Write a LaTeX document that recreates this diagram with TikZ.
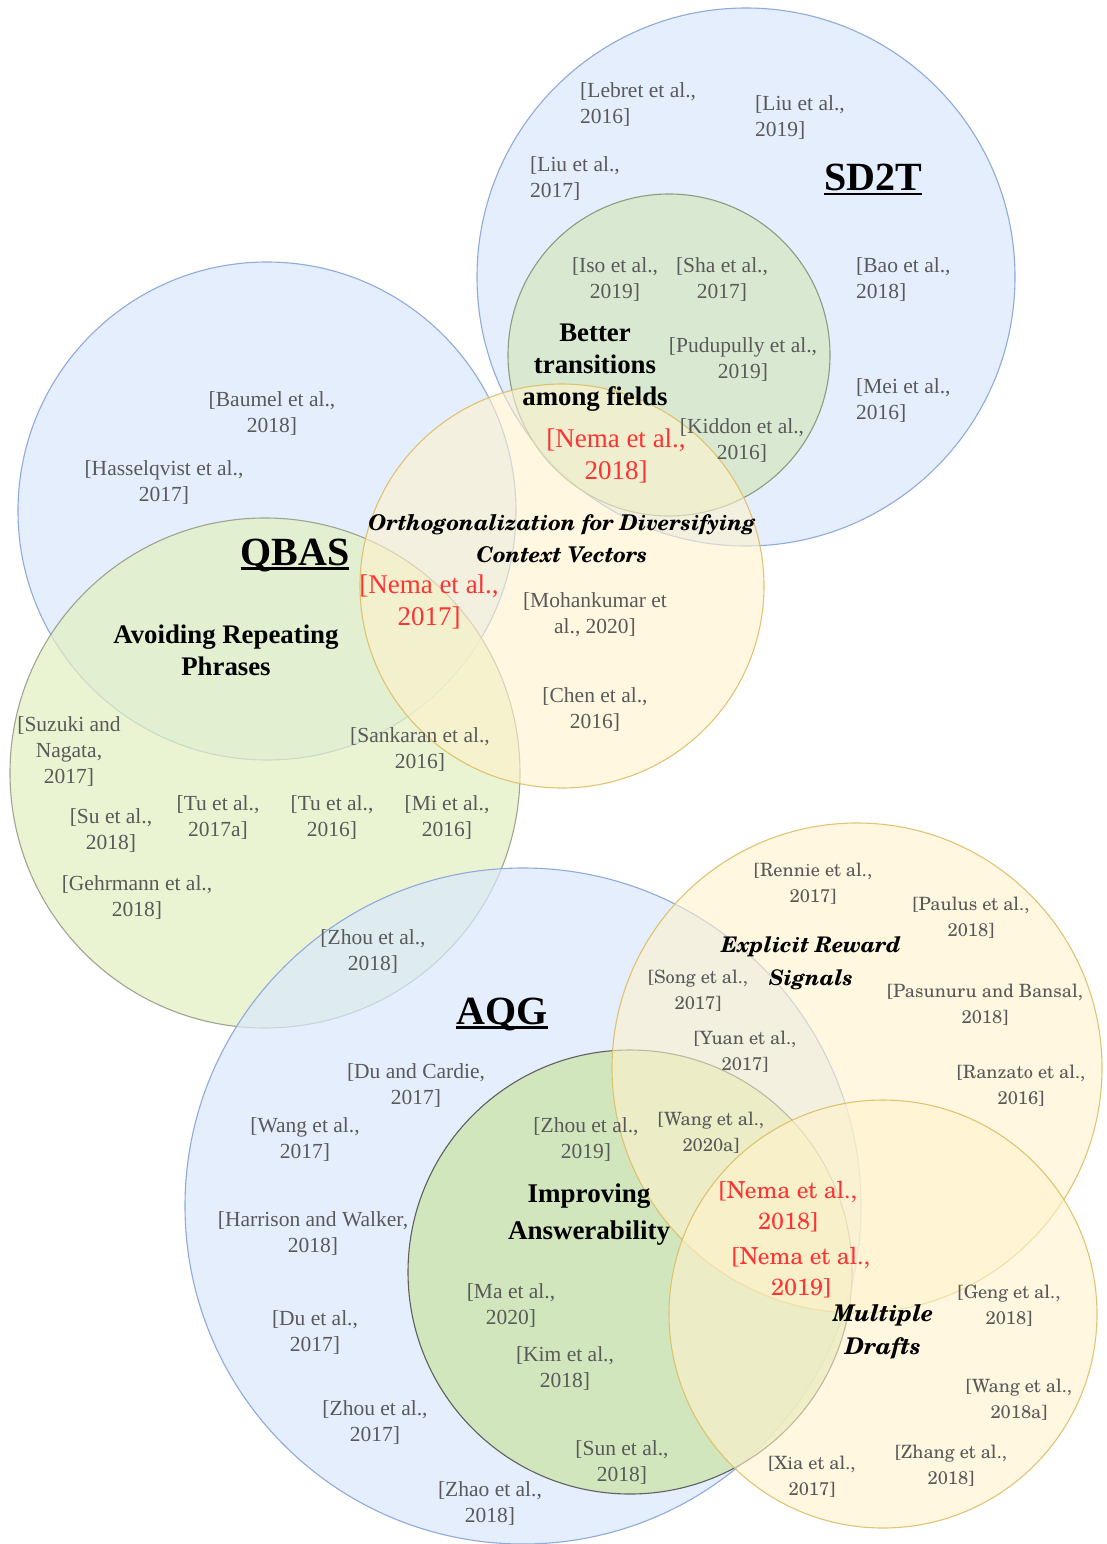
\documentclass[tikz,border=0pt]{standalone}
\usepackage{fontspec}
\setmainfont{Liberation Serif}
\newfontfamily\schola{texgyreschola}[Extension=.otf, UprightFont=*-regular, BoldFont=*-bold, ItalicFont=*-italic, BoldItalicFont=*-bolditalic]

\definecolor{citegray}{HTML}{595959}
\definecolor{nemared}{HTML}{FF3333}
\definecolor{bluefill}{HTML}{DAE8FC}
\definecolor{blueedge}{HTML}{8FAADC}
\definecolor{transfill}{HTML}{D5E8C0}
\definecolor{transedge}{HTML}{8C9C80}
\definecolor{avoidfill}{HTML}{E2F0C0}
\definecolor{avoidedge}{HTML}{9A9A88}
\definecolor{answfill}{HTML}{CDE5AE}
\definecolor{answedge}{HTML}{606060}
\definecolor{yelfill}{HTML}{FFF2CC}
\definecolor{yeledge}{HTML}{DDBE66}

% underlined heading with the rule set just under the baseline
\newcommand\arealabel[1]{\setbox0\hbox{#1}\rlap{\rule[-4.5pt]{\wd0}{2.6pt}}\box0}

\begin{document}
\begin{tikzpicture}[x=1pt,y=-1pt,
  cite/.style={text=citegray, font=\fontsize{21.5}{26}\selectfont, align=center, inner sep=0pt},
  citel/.style={cite, align=left, anchor=west},
  cites/.style={text=citegray, font=\schola\fontsize{18.3}{26}\selectfont, align=center, inner sep=0pt},
  nema/.style={text=nemared, font=\fontsize{27}{32}\selectfont, align=center, inner sep=0pt},
  nemas/.style={text=nemared, font=\schola\fontsize{23.4}{31}\selectfont, align=center, inner sep=0pt},
  theme/.style={font=\bfseries\fontsize{26.8}{32}\selectfont, align=center, inner sep=0pt},
  themes/.style={font=\schola\bfseries\itshape\fontsize{23}{33}\selectfont, align=center, inner sep=0pt},
  area/.style={font=\bfseries\fontsize{40}{48}\selectfont, inner sep=0pt},
  bluecirc/.style={fill=bluefill, fill opacity=0.7, draw=blueedge, line width=1.1pt},
  transcirc/.style={fill=transfill, fill opacity=0.7, draw=transedge, line width=1.1pt},
  avoidcirc/.style={fill=avoidfill, fill opacity=0.7, draw=avoidedge, draw opacity=0.9, line width=1.1pt},
  answcirc/.style={fill=answfill, fill opacity=0.8, draw=answedge, line width=1.1pt},
  yelcirc/.style={fill=yelfill, fill opacity=0.6, draw=yeledge, draw opacity=0.9, line width=1.1pt},
]
\useasboundingbox (0,0) rectangle (1106,1544);
\fill[white] (0,0) rectangle (1106,1544);

% ---- circles ----
\draw[bluecirc]  (746,277)  circle[radius=269pt];
\draw[transcirc] (669,355)  circle[radius=161pt];
\draw[bluecirc]  (267,511)  circle[radius=249pt];
\draw[avoidcirc] (265,773)  circle[radius=255pt];
\draw[yelcirc]   (562,586)  circle[radius=202pt];
\draw[bluecirc]  (523,1206) circle[radius=338pt];
\draw[answcirc]  (630,1272) circle[radius=222pt];
\draw[yelcirc]   (857,1068) circle[radius=245pt];
\draw[yelcirc]   (883,1314) circle[radius=214pt];

\begin{scope}[shift={(0,2)}]
% ---- SD2T ----
\node[area] (sd2t) at (873,178) {\arealabel{SD2T}};
\node[citel] (lebret) at (580,102) {[Lebret et al.,\\2016]};
\node[citel] (liu19) at (755,115) {[Liu et al.,\\2019]};
\node[citel] (liu17) at (530,176) {[Liu et al.,\\2017]};
\node[citel] (bao) at (856,277) {[Bao et al.,\\2018]};
\node[citel] (mei) at (856,398) {[Mei et al.,\\2016]};

% ---- better transitions ----
\node[theme] (trans) at (595,366) {Better\\transitions\\among fields};
\node[cite] (iso) at (615,277) {[Iso et al.,\\2019]};
\node[cite] (sha) at (722,277) {[Sha et al.,\\2017]};
\node[cite] (pudu) at (743,357) {[Pudupully et al.,\\2019]};
\node[cite] (kiddon) at (742,438) {[Kiddon et al.,\\2016]};
\node[nema] (nema18a) at (616,454) {[Nema et al.,\\2018]};

% ---- orthogonalization ----
\node[themes, font=\schola\bfseries\itshape\fontsize{21.7}{32}\selectfont] (ortho) at (562,537) {Orthogonalization for Diversifying\\Context Vectors};
\node[nema] (nema17) at (429,600) {[Nema et al.,\\2017]};
\node[cite] (mohan) at (595,613) {[Mohankumar et\\al., 2020]};
\node[cite] (chen) at (595,707) {[Chen et al.,\\2016]};
\node[cite] (sankaran) at (420,747) {[Sankaran et al.,\\2016]};

% ---- QBAS ----
\node[area] (qbas) at (295,553) {\arealabel{QBAS}};
\node[cite] (baumel) at (272,411) {[Baumel et al.,\\2018]};
\node[cite] (hassel) at (164,480) {[Hasselqvist et al.,\\2017]};

% ---- avoiding repeating phrases ----
\node[theme] (avoid) at (226,648) {Avoiding Repeating\\Phrases};
\node[cite] (suzuki) at (69,749) {[Suzuki and\\Nagata,\\2017]};
\node[cite] (su) at (111,828) {[Su et al.,\\2018]};
\node[cite] (tu17) at (218,815) {[Tu et al.,\\2017a]};
\node[cite] (tu16) at (332,815) {[Tu et al.,\\2016]};
\node[cite] (mi) at (447,815) {[Mi et al.,\\2016]};
\node[cite] (gehr) at (137,895) {[Gehrmann et al.,\\2018]};
\node[cite] (zhou18) at (373,949) {[Zhou et al.,\\2018]};

% ---- AQG ----
\node[area] (aqg) at (502,1012) {\arealabel{AQG}};
\node[cite] (ducardie) at (416,1083) {[Du and Cardie,\\2017]};
\node[cite] (wang17) at (305,1137) {[Wang et al.,\\2017]};
\node[cite] (harrison) at (313,1231) {[Harrison and Walker,\\2018]};
\node[cite] (du17) at (315,1330) {[Du et al.,\\2017]};
\node[cite] (zhou17) at (375,1420) {[Zhou et al.,\\2017]};
\node[cite] (zhao) at (490,1501) {[Zhao et al.,\\2018]};

% ---- improving answerability ----
\node[theme, font=\bfseries\fontsize{27}{37}\selectfont] (answ) at (589,1213) {Improving\\Answerability};
\node[cite] (zhou19) at (586,1137) {[Zhou et al.,\\2019]};
\node[cite] (ma) at (511,1303) {[Ma et al.,\\2020]};
\node[cite] (kim) at (565,1366) {[Kim et al.,\\2018]};
\node[cite] (sun) at (622,1460) {[Sun et al.,\\2018]};

% ---- explicit reward signals ----
\node[themes, font=\schola\bfseries\itshape\fontsize{21.5}{33}\selectfont] (reward) at (811,961) {Explicit Reward\\Signals};
\node[cites] (rennie) at (813,882) {[Rennie et al.,\\2017]};
\node[cites] (paulus) at (971,916) {[Paulus et al.,\\2018]};
\node[cites] (song) at (698,989) {[Song et al.,\\2017]};
\node[cites] (pasunuru) at (985,1003) {[Pasunuru and Bansal,\\2018]};
\node[cites] (yuan) at (745,1050) {[Yuan et al.,\\2017]};
\node[cites] (ranzato) at (1021,1084) {[Ranzato et al.,\\2016]};
\node[cites] (wang20) at (711,1131) {[Wang et al.,\\2020a]};
\node[nemas] (nema18b) at (788,1205) {[Nema et al.,\\2018]};
\node[nemas] (nema19) at (801,1271) {[Nema et al.,\\2019]};

% ---- multiple drafts ----
\node[themes] (drafts) at (883,1330) {Multiple\\Drafts};
\node[cites] (geng) at (1009,1304) {[Geng et al.,\\2018]};
\node[cites] (wang18) at (1019,1398) {[Wang et al.,\\2018a]};
\node[cites] (zhang) at (951,1464) {[Zhang et al.,\\2018]};
\node[cites] (xia) at (812,1475) {[Xia et al.,\\2017]};
\end{scope}
\end{tikzpicture}
\end{document}
